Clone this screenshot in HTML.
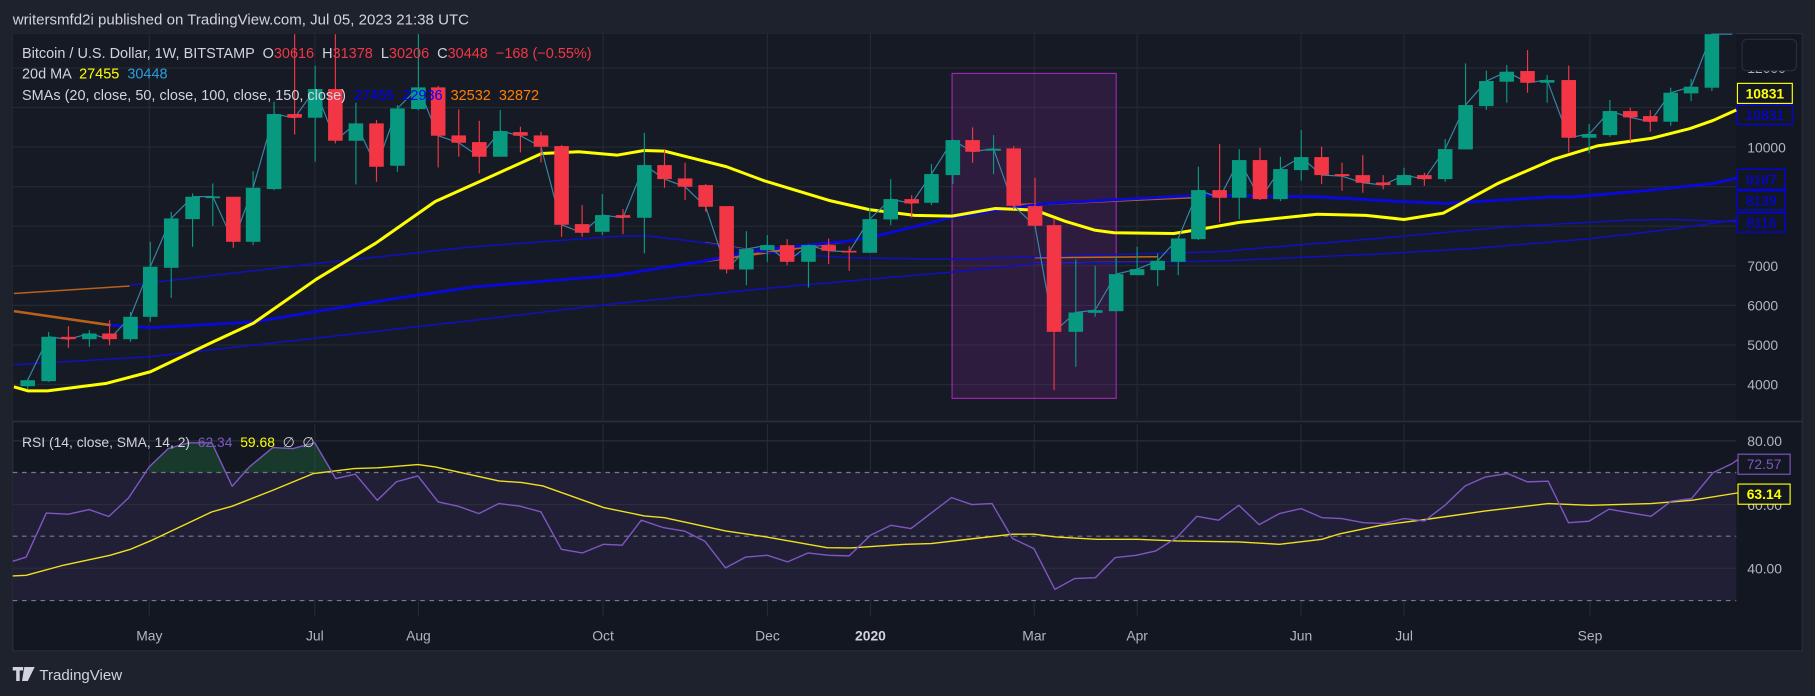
<!DOCTYPE html>
<html><head><meta charset="utf-8"><style>
html,body{margin:0;padding:0;background:#1e222d;overflow:hidden}
svg{display:block}
text{font-family:"Liberation Sans",sans-serif}
</style></head><body>
<svg id="s" width="1815" height="696" viewBox="0 0 1568 601" preserveAspectRatio="none" xmlns="http://www.w3.org/2000/svg">
<rect x="0" y="0" width="1568" height="601" fill="#1e222d"/>
<rect x="11" y="29" width="1546" height="533" fill="#131722" stroke="#2a2e39" stroke-width="1"/>
<rect x="11" y="29" width="1489" height="335" fill="#161a25"/>
<g id="grid" stroke="#252935" stroke-width="1"></g>
<line x1="11" y1="364" x2="1557" y2="364" stroke="#2a2e39" stroke-width="1.5"/>
<rect x="11" y="408" width="1489" height="110.6" fill="#211f35"/>
<g id="rsigrid"></g>
<rect x="822.5" y="63.4" width="141.8" height="280.6" fill="rgba(156,39,176,0.18)" stroke="#9c27b0" stroke-width="1"/>
<g id="ma"></g>
<g id="candles"></g>
<g id="rsi"></g>
<text x="11" y="21" fill="#d1d4dc" font-size="13">writersmfd2i published on TradingView.com, Jul 05, 2023 21:38 UTC</text>
<text x="19" y="50" font-size="12.5" fill="#d1d4dc" xml:space="preserve">Bitcoin / U.S. Dollar, 1W, BITSTAMP  O<tspan fill="#f23645">30616</tspan>  H<tspan fill="#f23645">31378</tspan>  L<tspan fill="#f23645">30206</tspan>  C<tspan fill="#f23645">30448</tspan>  <tspan fill="#f23645">−168 (−0.55%)</tspan></text>
<text x="19" y="68" font-size="12.5" fill="#d1d4dc" xml:space="preserve">20d MA  <tspan fill="#ffff00">27455</tspan>  <tspan fill="#2d9cdb">30448</tspan></text>
<text x="19" y="86.5" font-size="12.5" fill="#d1d4dc" xml:space="preserve">SMAs (20, close, 50, close, 100, close, 150, close)  <tspan fill="#0000ff">27455</tspan>  <tspan fill="#0000ff">22936</tspan>  <tspan fill="#ff7f00">32532</tspan>  <tspan fill="#ff7f00">32872</tspan></text>
<text x="19" y="386" font-size="12" fill="#d1d4dc" xml:space="preserve">RSI (14, close, SMA, 14, 2)  <tspan fill="#7e57c2">62.34</tspan>  <tspan fill="#ffff00">59.68</tspan>  ∅  ∅</text>
<g id="axis" font-size="12" fill="#b2b5be"></g>
<rect x="1505" y="34" width="47" height="27" rx="4" fill="#131722" stroke="#2a2e39"/>
<g>
<rect x="1501" y="72" width="47.4" height="17.3" fill="#131722" stroke="#ffff00"/>
<text x="1524.7" y="85" font-size="12" fill="#ffff00" text-anchor="middle" font-weight="bold">10831</text>
<rect x="1501" y="91" width="47.4" height="16.4" fill="#131722" stroke="#0000ff"/>
<text x="1524.7" y="103.5" font-size="12" fill="#0000ff" text-anchor="middle">10831</text>
<rect x="1501" y="146.3" width="41.3" height="17.3" fill="#131722" stroke="#0000ff"/>
<text x="1521.6" y="159.5" font-size="12" fill="#0000ff" text-anchor="middle">9187</text>
<rect x="1501" y="164.7" width="41.3" height="16.7" fill="#131722" stroke="#0000ff"/>
<text x="1521.6" y="177.5" font-size="12" fill="#0000ff" text-anchor="middle">8139</text>
<rect x="1501" y="183.7" width="41.3" height="16.7" fill="#131722" stroke="#0000ff"/>
<text x="1521.6" y="196.5" font-size="12" fill="#0000ff" text-anchor="middle">8116</text>
<rect x="1501.5" y="392.2" width="45" height="17.3" fill="#131722" stroke="#7e57c2"/>
<text x="1524" y="405" font-size="12" fill="#7e57c2" text-anchor="middle">72.57</text>
<rect x="1501.5" y="418" width="45" height="17.4" fill="#131722" stroke="#ffff00"/>
<text x="1524" y="431" font-size="12" fill="#ffff00" text-anchor="middle" font-weight="bold">63.14</text>
</g>
<g transform="translate(11,576)">
<path d="M0 0h9v3h-3v9h-3v-9h-3z M10 0h3l-2 12h-3z M13 0h6l-6 12h-3z" fill="#d1d4dc"/>
<text x="23" y="11" font-size="13" fill="#d1d4dc">TradingView</text>
</g>
</svg>
<script>
var NS="http://www.w3.org/2000/svg";
function el(p,t,a){var e=document.createElementNS(NS,t);for(var k in a)e.setAttribute(k,a[k]);document.getElementById(p).appendChild(e);return e;}
function py(p){return 127+(10000-p)*0.03417;}
[4000,5000,6000,7000,8000,9000,10000,11000,12000].forEach(function(p){var y=py(p);el("grid","line",{x1:11,x2:1500,y1:y,y2:y});});
var vx=[129,272,361.5,521,663,752,893.5,982.4,1124,1213,1373.6];
vx.forEach(function(x){el("grid","line",{x1:x,x2:x,y1:29,y2:362});el("grid","line",{x1:x,x2:x,y1:366,y2:532});});
[435.7,490.7,380.7].forEach(function(y){el("rsigrid","line",{x1:11,x2:1500,y1:y,y2:y,stroke:"#2a2e39"});});
[408,463,518.6].forEach(function(y){el("rsigrid","line",{x1:11,x2:1500,y1:y,y2:y,stroke:"#787b86","stroke-dasharray":"4 4"});});
[[12000,"12000"],[10000,"10000"],[7000,"7000"],[6000,"6000"],[5000,"5000"],[4000,"4000"]].forEach(function(a){var t=el("axis","text",{x:1509.5,y:py(a[0])+4.5});t.textContent=a[1];});
[[380.7,"80.00"],[435.7,"60.00"],[490.7,"40.00"]].forEach(function(a){var t=el("axis","text",{x:1509.5,y:a[0]+4.5});t.textContent=a[1];});
[["May",129],["Jul",272],["Aug",361.5],["Oct",521],["Dec",663],["2020",752],["Mar",893.5],["Apr",982.4],["Jun",1124],["Jul",1213],["Sep",1373.6]].forEach(function(a){var t=el("axis","text",{x:a[1],y:553,"text-anchor":"middle"});if(a[0]=="2020"){t.setAttribute("font-weight","bold");t.setAttribute("fill","#d1d4dc");}t.textContent=a[0];});
var z3=[[70,1050,1068,1045,1078,1],[123,920,1053,905,1055,1],[173,920,927,888,953,0],[226,910,927,900,950,1],[277,910,927,870,945,0],[330,860,927,845,935,1],[380,710,860,635,875,1],[433,565,713,545,803,1],[487,500,567,490,650,1],[538,499,502,460,588,1],[590,500,635,500,653,0],[640,473,635,423,645,1],[693,252,477,215,480,1],[745,252,263,10,313,0],[797,177,263,107,395,1],[848,177,332,10,340,0],[900,280,332,218,463,1],[952,280,410,270,455,0],[1005,235,407,225,425,1],[1058,172,237,10,240,1],[1108,172,317,168,412,0],[1160,316,338,238,380,0],[1212,336,380,272,430,0],[1265,303,380,240,380,1],[1316,306,317,290,367,0],[1368,316,350,305,397,0],[1420,348,584,345,620,0],[1472,582,608,525,620,0],[1523,555,605,492,615,1]];
var z4=[[58,555,563,537,612,0],[112,405,563,308,670,1],[163,405,447,357,473,0],[215,445,470,398,510,0],[267,465,530,462,545,0],[320,528,718,528,730,0],[370,657,718,603,765,1],[423,645,660,615,695,1],[473,645,695,627,705,0],[527,645,695,645,772,1],[578,645,662,625,702,0],[630,662,665,648,722,0],[682,567,668,533,668,1],[735,507,568,447,585,1],[788,507,520,495,563,0],[838,432,518,402,525,1],[892,330,435,330,462,1],[942,330,365,292,398,0],[995,356,362,315,432,1],[1046,355,527,348,537,0],[1100,528,587,443,587,0],[1148,585,905,565,1080,0],[1203,847,905,688,1010,1],[1252,840,848,707,860,1],[1305,732,843,680,843,1],[1358,717,735,650,735,1],[1410,692,720,670,768,1],[1462,625,695,625,735,1],[1513,480,627,410,630,1]];
var z5=[[50,480,503,342,577,0],[100,390,503,357,567,1],[153,390,507,353,510,0],[205,417,507,380,513,1],[258,381,420,300,452,1],[310,381,435,350,462,0],[362,432,438,398,482,0],[415,435,458,375,488,0],[467,457,465,435,478,0],[520,435,465,413,465,1],[572,435,447,428,467,0],[625,357,447,327,455,1],[677,225,358,100,358,1],[730,153,228,122,240,1],[782,125,155,105,218,1],[835,123,158,60,188,0],[885,150,158,135,218,1],[940,150,323,107,367,0],[992,312,323,282,370,1],[1045,243,315,210,320,1],[1097,243,262,233,335,0],[1148,258,275,240,305,0],[1200,188,275,173,287,1],[1252,170,190,147,213,1],[1305,12,173,12,183,1]];
function Y(z){return Math.max(29.5,25.92+z/3.4725);}
var C=[];
z3.forEach(function(c){C.push([c[0]/2.927].concat(c.slice(1)));});
z4.forEach(function(c){C.push([518.4+c[0]/2.927].concat(c.slice(1)));});
z5.forEach(function(c){C.push([1036.7+c[0]/2.951].concat(c.slice(1)));});
var pts=C.map(function(c){return c[0].toFixed(1)+","+Y(c[5]?c[1]:c[2]).toFixed(1);});
pts.push("1496.5,29.5");
function pl(g,p,col,w){el(g,"polyline",{points:p,fill:"none",stroke:col,"stroke-width":w,"stroke-linejoin":"round"});}
function P(a){return a.map(function(v){return v.join(",");}).join(" ");}
pl("ma",P([[12,253.4],[112,247]]),"#b8611a",1.3);
pl("ma",P([[12,268.7],[95.6,280.8]]),"#b8611a",2.2);
pl("ma",P([[609,209.4],[662,218]]),"#b8611a",1.3);
pl("ma",P([[609,225.5],[733.6,208]]),"#b8611a",2.2);
pl("ma",P([[880.5,177],[1017,170.8],[1040,170]]),"#b8611a",2.2);
pl("ma",P([[894,222.6],[1000,221.7]]),"#c2691c",1.3);
pl("ma",P([[894,227.5],[1000,226]]),"#c2691c",1.3);
pl("ma",P([[12,315],[130,308],[273,292],[410,276.5],[533,262],[662,249],[757.6,240.5],[826,234.7],[894,227.5],[1051,225.5],[1189,219.4],[1274,214.5],[1375.6,205.9],[1443,198],[1500,190]]),"#1010c0",1.3);
pl("ma",P([[112.7,246.2],[273,227.5],[410,213],[533,204],[559,203.6],[607,209.4],[655,217.4],[733.6,222.6],[826,224],[894,221.7],[1051,217.4],[1206,204.5],[1300,196],[1409.5,190],[1443,189.5],[1500,191.5]]),"#1010c0",1.3);
pl("ma",P([[95.6,280.8],[130,283],[219,278],[273,269],[341.6,257.7],[410,247.7],[533,237.6],[607.2,225.5],[655,216],[733.6,208],[757.6,203.6],[822.5,187.8],[867,180.6],[900,176],[1037,168.5],[1140,170],[1213,174.2],[1250,175.7],[1340,170],[1360,170],[1426,164.2],[1480,158.4],[1500,154]]),"#0a0ad8",2.5);
pl("ma",P([[12,334],[24,337.5],[41,337.5],[92,331],[130,321],[184.5,295],[219,279],[273,241.3],[324.6,210],[376,174],[423.6,152.6],[468,132.5],[500,131],[533,134],[556,130],[574,130.5],[600,137],[627.7,144],[660,156],[716,173],[751,181],[790,186],[822.5,186.6],[860,180],[894,181.4],[920,191],[945.5,198.7],[962.5,201],[1014,201.6],[1037,198],[1070.6,192],[1138,185],[1180,186],[1213,189.5],[1247,184],[1294,158.4],[1341.7,137.7],[1380,126],[1426.4,119.5],[1460,111],[1480,104],[1500,95]]),"#ffff00",2.6);
pl("candles",pts.join(" "),"#3a87a8",1);
C.forEach(function(c){var x=c[0],col=c[5]?"#089981":"#f23645";
 el("candles","line",{x1:x,x2:x,y1:Y(c[3]),y2:Y(c[4]),stroke:col,"stroke-width":1});
 var t=Y(c[1]),b=Y(c[2]);if(b-t<1.5)b=t+1.5;
 el("candles","rect",{x:x-6.3,y:t,width:12.6,height:b-t,fill:col});});
var R=[[11,484.7],[22.6,481],[40,443],[59,444],[77,440],[94,446],[111,430],[129,403],[145.4,387.3],[163,382.4],[183,382.4],[200.6,419.9],[215.6,403],[235.7,386.5],[253,387.3],[272,382.4],[290,413.2],[307,409.5],[326,432],[342.5,416],[361,411],[378.6,433.4],[396,437.2],[413.7,443.5],[431,434.8],[448.8,437],[467.3,442],[485,474.3],[503,477.5],[521.5,470],[537.5,470.8],[554,449.2],[573,455.6],[591.7,458.7],[609,467.4],[626.8,490.4],[644.3,481],[663,479.5],[680.4,485.2],[698,477.5],[716,479.5],[733.6,480],[752,462.2],[769.7,453.6],[787,456.4],[804.5,443],[822,429.7],[839.6,435.7],[857,434.8],[874.7,465],[893.2,473.7],[911.3,508.9],[928.3,499.6],[946.4,498.8],[963.4,481.5],[981.5,479.5],[998.5,475.7],[1016.6,464.2],[1034,445.8],[1052.7,449.2],[1070.3,436.3],[1087.8,453],[1105.3,443.5],[1124,439.2],[1142,447],[1159,447.8],[1178,451.3],[1195.6,452.1],[1213,447.8],[1230.7,449.8],[1248.3,436.3],[1265.8,419.6],[1283.4,411.8],[1302.4,408.9],[1319.5,416.1],[1337.5,415.5],[1355,451.3],[1372.7,450.1],[1390,439.7],[1408.8,442.9],[1426.3,445.8],[1443.8,432.8],[1461.4,430.5],[1480,408.1],[1496.4,400.3],[1501.4,396.8]];
el("rsi","polygon",{points:"129,408 129,403 145.4,387.3 163,382.4 183,382.4 195,408",fill:"rgba(34,120,60,0.35)"});
el("rsi","polygon",{points:"207,408 215.6,403 235.7,386.5 253,387.3 272,382.4 288,408",fill:"rgba(34,120,60,0.35)"});
var S=[[11,497.3],[22.6,496.8],[55,488],[95,479.5],[112.8,474.3],[130,467],[183,442],[200.6,437.1],[235.7,423.3],[270.8,408.9],[306,404.6],[326,404],[361,401.2],[376,403.2],[431,415.3],[451,416.7],[469,419.6],[521.5,438.3],[556.6,445.5],[574,447],[626.8,458.5],[662,463.6],[714.5,472.9],[734.6,473.1],[782,470],[804.5,469.4],[842,465],[874.7,461.3],[893.2,461.3],[912,463.6],[947.4,465.7],[982.5,465.7],[1016.6,467.1],[1070.3,468],[1105.3,470],[1142,465.7],[1158,460.8],[1193,453.6],[1230.7,448.7],[1283.4,441.2],[1318.5,437.1],[1337.5,434.8],[1373.6,436.3],[1426.3,434.8],[1461.4,432],[1501.4,425.6]];
pl("rsi",P(S),"#f0e020",1.2);
pl("rsi",P(R),"#7e57c2",1.2);
</script>
</body></html>
